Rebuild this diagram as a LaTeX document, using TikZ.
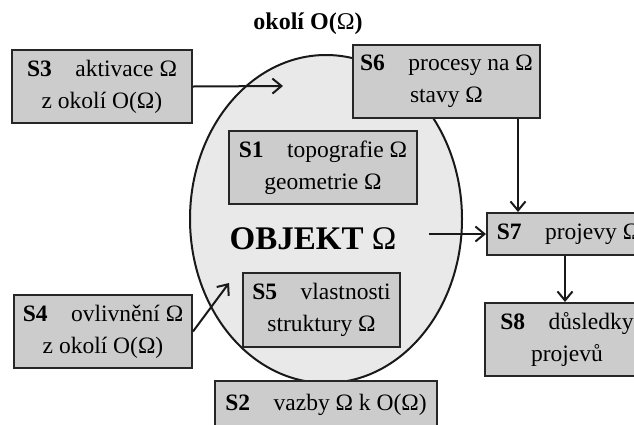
\documentclass[tikz,border=0pt]{standalone}
\usepackage{fontspec}
\setmainfont{Liberation Serif}
\usetikzlibrary{arrows.meta}
\tikzset{
  box/.style={draw=black!85, line width=2pt, fill=gray!40, align=center, inner sep=0pt,
    font=\fontsize{23.5}{32}\selectfont},
  arr/.style={draw=black!90, line width=2pt, -{Straight Barb[length=9pt,width=15pt]}},
}
\begin{document}
\begin{tikzpicture}[x=1pt,y=-1pt]
\clip (0,0) rectangle (634,424);
\fill[white] (0,0) rectangle (634,424);
% title
\node[font=\fontsize{24}{28}\selectfont] (title) at (308,24) {\textbf{okolí O(}Ω\textbf{)}};
% object ellipse
\draw[line width=2pt, draw=black!90, fill=gray!17] (326,219) ellipse [x radius=136, y radius=164];
\node[font=\fontsize{33}{36}\selectfont] (obj) at (313,239) {\textbf{OBJEKT} Ω};
% boxes
\node[box, minimum width=180pt, minimum height=73pt] (s3) at (102,86.5) {\textbf{S3}\quad aktivace Ω\\z okolí O(Ω)};
\node[box, minimum width=187pt, minimum height=73pt] (s6) at (446.5,81.5) {\textbf{S6}\quad procesy na Ω\\stavy Ω};
\node[box, minimum width=188pt, minimum height=73pt] (s1) at (323,167.5) {\textbf{S1}\quad topografie Ω\\geometrie Ω};
\node[box, minimum width=157pt, minimum height=74pt] (s5) at (321.5,310) {\textbf{S5}\quad vlastnosti\\struktury Ω};
\node[box, minimum width=178pt, minimum height=73pt] (s4) at (103,331.5) {\textbf{S4}\quad ovlivnění Ω\\z okolí O(Ω)};
\node[box, minimum width=222pt, minimum height=48pt] (s2) at (326,405) {\textbf{S2}\quad vazby Ω k O(Ω)};
\node[box, minimum width=163pt, minimum height=42pt] (s7) at (568.5,234) {\textbf{S7}\quad projevy Ω};
\node[box, minimum width=164pt, minimum height=73pt] (s8) at (567,339.5) {\textbf{S8}\quad důsledky\\projevů};
% connectors
\coordinate (a3end) at (283,86);
\coordinate (a4end) at (229,283);
\coordinate (objR) at (429,234);
\draw[arr] (s3.east) -- (a3end);
\draw[arr] (s4.east) -- (a4end);
\draw[arr] (objR) -- (s7.west);
\draw[arr] ([xshift=71.5pt]s6.south) -- ([xshift=71.5pt]s6.south |- s7.north);
\draw[arr] ([xshift=-3.5pt]s7.south) -- ([xshift=-3.5pt]s7.south |- s8.north);
\end{tikzpicture}
\end{document}
